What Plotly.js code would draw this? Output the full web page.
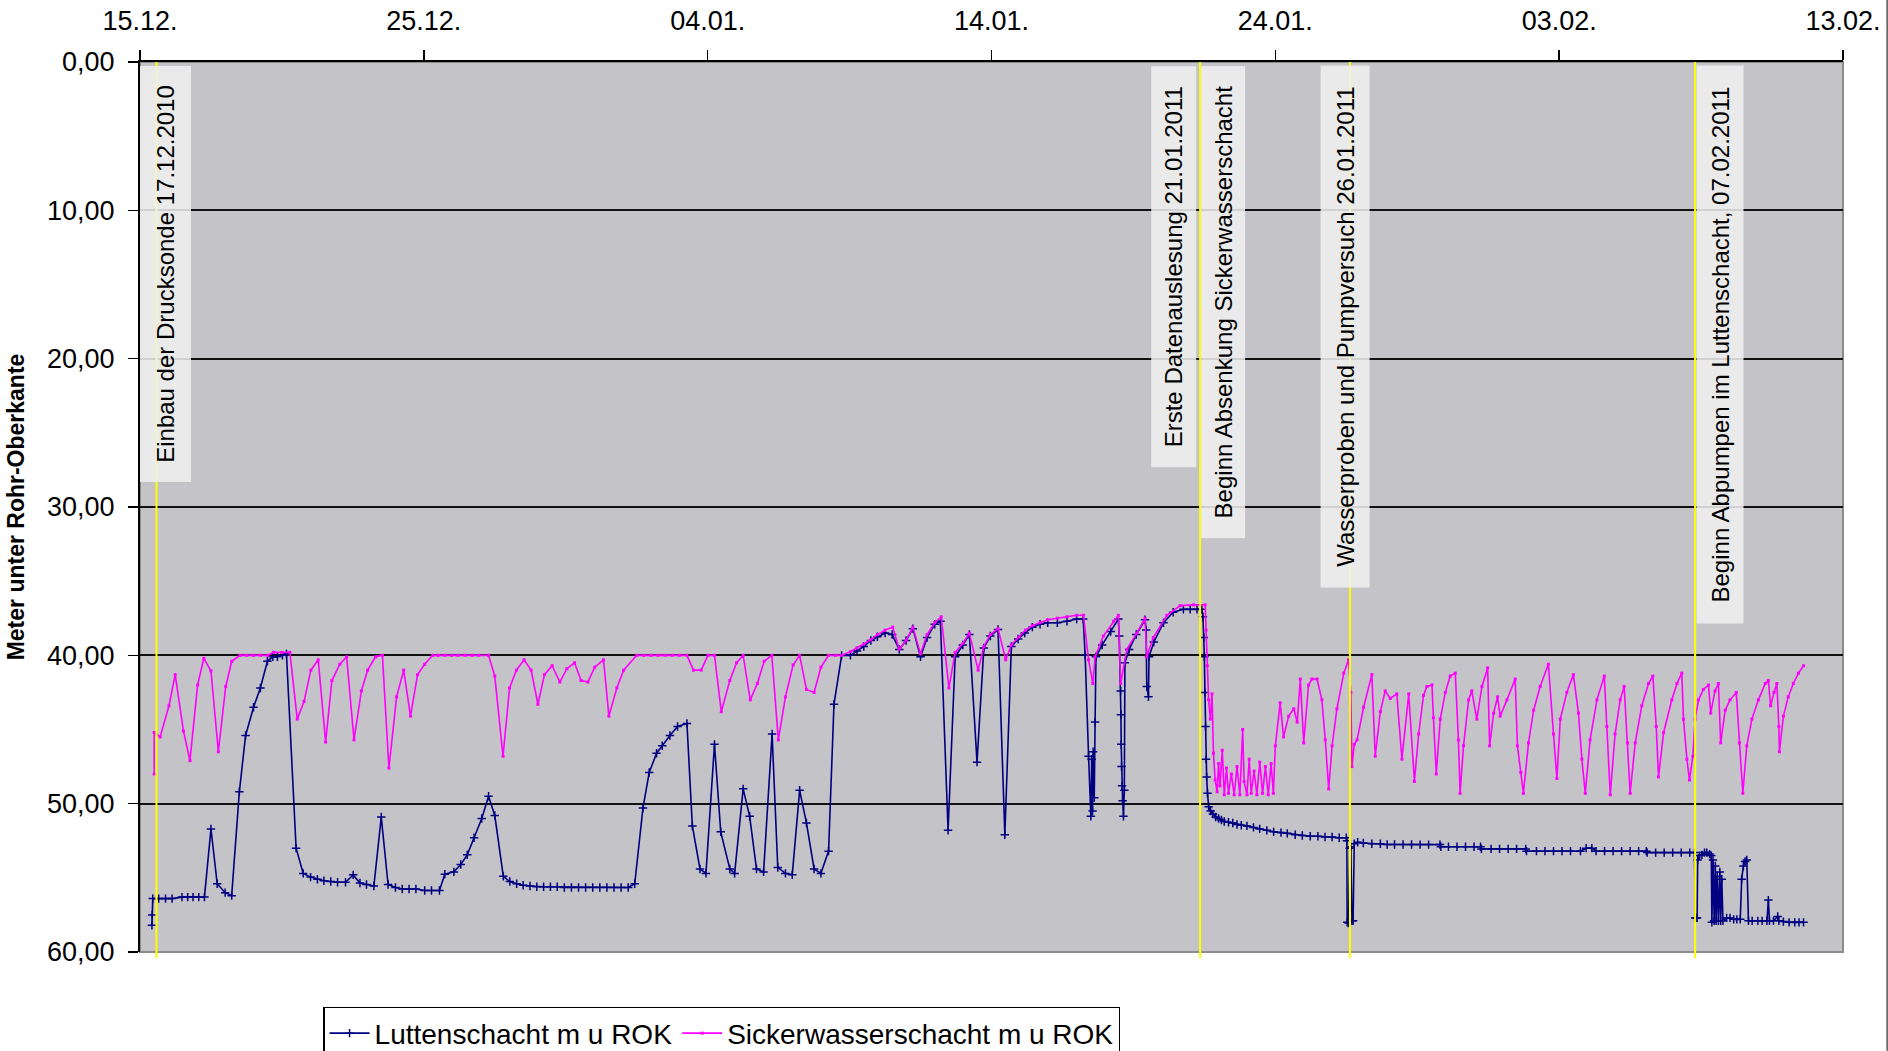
<!DOCTYPE html>
<html>
<head>
<meta charset="utf-8">
<script src="https://cdn.plot.ly/plotly-3.0.1.min.js"></script>
<style>
  html, body { margin: 0; padding: 0; background: #ffffff; }
  #chart { width: 1888px; height: 1051px; }
</style>
</head>
<body>
<div id="chart"></div>
<script>
// ---- DATA (days after 15.12.2010 00:00, depth in m below pipe top) ----
const seriesNames = ['Luttenschacht m u ROK', 'Sickerwasserschacht m u ROK'];

const lutDays = [0.42,0.43,0.45,0.66,0.9,1.13,1.48,1.68,1.87,2.07,2.27,2.5,2.72,3.0,3.23,3.5,3.72,4.0,4.24,4.49,4.68,4.84,5.02,5.16,5.5,5.75,6.01,6.25,6.48,6.72,6.96,7.24,7.51,7.75,7.98,8.24,8.5,8.74,9.0,9.24,9.48,9.72,10.03,10.27,10.55,10.74,11.06,11.3,11.53,11.77,12.04,12.28,12.5,12.8,13.03,13.27,13.5,13.74,13.98,14.22,14.46,14.7,14.95,15.2,15.45,15.7,15.95,16.2,16.45,16.7,16.95,17.2,17.43,17.72,17.94,18.2,18.4,18.67,18.94,19.27,19.46,19.73,19.94,20.24,20.46,20.78,20.95,21.25,21.48,21.72,21.97,22.27,22.47,22.74,22.98,23.24,23.48,23.75,23.99,24.26,24.45,24.72,25.03,25.26,25.5,25.75,25.98,26.25,26.5,26.75,26.99,27.23,27.5,27.73,28.0,28.2,28.47,28.72,28.99,29.22,29.49,29.73,29.96,30.23,30.47,30.7,30.94,31.17,31.44,31.71,31.98,32.32,32.66,33.0,33.23,
33.3,33.42,33.5,33.53,33.56,33.58,33.62,33.65,33.68,33.9,34.2,34.47,34.5,34.55,34.56,34.57,34.58,34.6,34.62,34.65,34.68,34.7,34.85,35.1,35.41,35.45,35.47,35.53,35.55,35.72,36.06,36.4,36.76,37.0,37.24,37.41,
37.45,37.48,37.5,37.52,37.54,37.56,37.58,37.61,37.65,37.72,37.8,37.9,38.0,38.1,38.2,38.35,38.5,38.65,38.8,39.0,39.23,39.45,39.7,39.94,40.2,40.42,40.7,40.95,41.23,41.5,41.75,42.0,42.25,42.5,42.52,42.53,42.58,42.62,42.66,42.7,42.74,42.78,42.9,43.1,43.4,43.7,43.94,44.2,44.5,44.8,45.1,45.4,45.8,45.83,46.1,46.4,46.7,47.0,47.23,47.26,47.6,47.9,48.2,48.5,48.82,48.85,49.2,49.5,49.8,50.1,50.4,50.75,50.95,51.15,51.3,51.6,51.9,52.2,52.5,52.8,53.07,53.1,53.4,53.7,54.0,54.3,54.6,54.77,
54.79,54.83,54.86,54.88,54.95,55.03,55.12,55.2,55.3,55.36,55.38,55.42,55.46,55.5,55.53,55.57,55.61,55.66,55.69,55.73,55.77,55.9,56.02,56.15,56.26,56.38,56.43,56.49,56.55,56.61,56.67,56.8,57.0,57.15,57.32,57.37,57.41,57.55,57.7,57.74,57.9,58.1,58.3,58.45,58.61];

const lutDepth = [58.2,57.5,56.4,56.4,56.4,56.4,56.3,56.3,56.3,56.3,56.3,51.7,55.4,56.0,56.2,49.2,45.4,43.5,42.2,40.4,40.1,40.1,40.0,39.9,53.0,54.7,54.95,55.1,55.2,55.25,55.3,55.3,54.8,55.35,55.45,55.55,50.9,55.45,55.65,55.75,55.75,55.75,55.85,55.85,55.85,54.75,54.6,54.1,53.45,52.3,51.0,49.5,50.8,54.9,55.25,55.4,55.5,55.55,55.6,55.6,55.6,55.6,55.65,55.65,55.65,55.65,55.65,55.65,55.65,55.65,55.65,55.65,55.4,50.3,47.9,46.6,46.1,45.4,44.8,44.6,51.5,54.4,54.7,46.0,51.9,54.4,54.7,49.0,50.85,54.4,54.6,45.3,54.3,54.7,54.8,49.1,51.3,54.4,54.7,53.2,43.3,40.0,40.0,39.7,39.4,39.0,38.75,38.5,38.6,39.6,39.0,38.2,40.1,38.8,37.9,37.7,51.8,40.1,39.3,38.6,47.2,39.5,38.7,38.25,52.1,39.4,38.9,38.5,38.1,37.9,37.8,37.8,37.7,37.55,37.55,
40.0,46.8,50.85,47.0,50.5,46.5,49.6,44.5,40.1,39.3,38.4,37.55,38.7,42.4,44.0,46.0,47.5,48.8,49.8,50.85,49.1,40.5,39.6,38.6,37.6,38.3,42.1,42.8,40.1,39.1,37.8,37.1,36.9,36.9,36.9,36.9,
37.4,38.8,40.1,42.5,44.8,47.0,48.2,49.3,50.2,50.5,50.7,50.9,51.0,51.1,51.2,51.25,51.3,51.4,51.45,51.5,51.6,51.7,51.8,51.9,51.95,52.0,52.1,52.15,52.2,52.2,52.25,52.25,52.3,52.3,52.5,58.0,58.05,53.0,52.9,57.9,57.9,52.7,52.6,52.65,52.7,52.7,52.75,52.75,52.75,52.75,52.76,52.76,52.76,52.9,52.9,52.9,52.9,52.9,52.9,53.05,53.05,53.05,53.05,53.05,53.05,53.2,53.2,53.2,53.2,53.2,53.2,53.2,53.0,53.0,53.2,53.2,53.2,53.2,53.2,53.2,53.2,53.3,53.3,53.3,53.3,53.3,53.3,53.3,
57.7,57.7,57.7,53.8,53.5,53.45,53.3,53.3,53.4,53.5,58.0,53.8,57.9,54.2,57.9,54.9,57.9,54.6,57.9,55.1,57.9,57.7,57.7,57.8,57.8,57.8,55.1,54.2,53.9,53.8,57.9,57.9,57.9,57.9,57.9,56.5,57.9,57.9,57.6,57.9,57.95,58.0,58.0,58.0,58.0];

const sickDays = [0.5,0.5,0.71,1.02,1.24,1.53,1.76,2.03,2.25,2.5,2.76,3.02,3.23,3.53,3.76,4.0,4.24,4.5,4.71,4.99,5.28,5.54,5.78,6.02,6.28,6.54,6.76,7.04,7.28,7.54,7.8,8.02,8.3,8.54,8.77,9.04,9.29,9.53,9.78,10.03,10.31,10.5,10.74,10.98,11.2,11.45,11.7,11.93,12.28,12.5,12.79,13.02,13.26,13.53,13.78,14.02,14.25,14.52,14.79,15.04,15.31,15.54,15.78,16.02,16.33,16.52,16.8,17.04,17.5,17.75,18.0,18.25,18.5,18.75,19.0,19.27,19.5,19.77,20.01,20.24,20.48,20.78,21.02,21.25,21.5,21.75,21.99,22.26,22.49,22.74,23.01,23.24,23.48,23.75,23.99,24.26,24.5,24.72,25.03,25.26,25.5,25.75,25.98,26.25,26.52,26.75,26.99,27.23,27.5,27.73,28.0,28.23,28.5,28.72,28.99,29.22,29.53,29.73,29.96,30.23,30.5,30.7,30.97,31.2,31.44,31.71,31.98,32.32,32.66,33.0,33.24,33.42,33.57,33.65,33.94,34.3,34.47,34.55,34.77,35.12,35.41,35.47,35.7,36.18,36.65,37.12,37.53,
37.56,37.6,37.65,37.71,37.77,37.82,37.88,37.95,38.0,38.05,38.13,38.2,38.28,38.35,38.45,38.55,38.65,38.75,38.85,38.9,39.0,39.08,39.15,39.25,39.35,39.45,39.55,39.65,39.75,39.85,39.93,40.0,40.17,40.29,40.47,40.65,40.77,40.88,41.0,41.17,41.29,41.47,41.64,41.76,41.88,42.0,42.17,42.41,42.58,42.66,42.7,42.78,42.88,43.11,43.4,43.52,43.7,43.87,44.05,44.28,44.46,44.7,44.9,
45.05,45.22,45.34,45.52,45.57,45.67,45.81,45.99,46.16,46.34,46.45,46.51,46.63,46.81,46.92,47.1,47.28,47.48,47.55,47.69,47.83,47.92,48.16,48.45,48.53,48.65,48.74,48.92,49.1,49.33,49.62,49.8,49.92,50.04,50.27,50.5,50.68,50.8,50.92,51.09,51.33,51.59,51.68,51.8,51.97,52.15,52.29,52.41,52.5,52.68,52.91,53.15,53.3,53.42,53.5,53.68,53.97,54.15,54.32,54.38,54.5,54.59,54.71,54.79,54.91,55.08,55.26,55.34,55.49,55.61,55.69,55.85,56.02,56.24,56.35,56.47,56.61,56.79,57.02,57.26,57.37,57.45,57.57,57.67,57.74,57.76,57.9,58.07,58.25,58.43,58.61];

const sickDepth = [48.0,45.2,45.5,43.4,41.3,45.1,47.1,42.0,40.2,41.05,46.5,42.1,40.4,40.0,40.0,40.0,40.0,40.0,39.8,39.8,39.8,44.3,43.1,41.0,40.3,45.85,41.7,40.6,40.1,45.7,42.4,41.0,40.1,40.0,47.6,42.8,41.0,44.1,41.3,40.6,40.0,40.0,40.0,40.0,40.0,40.0,40.0,40.0,40.0,41.4,46.8,42.2,41.0,40.3,41.0,43.3,41.3,40.7,41.8,40.9,40.5,41.7,41.8,40.8,40.3,44.1,42.2,41.0,40.0,40.0,40.0,40.0,40.0,40.0,40.0,40.0,41.0,41.0,40.0,40.0,43.8,41.7,40.5,40.0,43.0,41.9,40.4,40.0,45.7,42.8,40.65,40.0,42.3,42.5,40.8,40.0,40.0,40.0,39.75,39.5,39.25,38.95,38.6,38.3,38.1,39.6,39.0,38.1,39.9,38.6,37.8,37.4,42.2,39.8,39.2,38.5,41.0,39.4,38.6,38.2,40.3,39.3,38.75,38.3,38.0,37.8,37.6,37.5,37.4,37.3,37.3,40.3,41.9,40.1,38.7,37.7,37.3,41.9,39.6,38.5,37.5,40.1,38.8,37.3,36.65,36.6,36.6,
38.3,40.7,43.0,44.3,42.6,46.6,48.4,49.2,47.3,48.8,46.4,49.4,47.6,49.3,48.0,49.4,47.5,49.4,45.0,48.5,49.4,47.0,49.3,47.8,49.4,47.2,49.3,47.5,49.4,47.3,49.3,46.1,43.2,45.5,44.1,43.6,44.5,41.6,45.9,42.0,41.6,41.6,43.0,45.7,49.0,46.1,43.6,41.2,40.3,42.5,47.5,46.0,45.7,43.5,41.3,46.8,43.8,42.4,42.9,42.6,47.0,42.6,48.5,
45.3,42.7,42.1,42.0,44.2,48.0,44.3,42.5,41.4,41.2,45.7,49.3,46.1,43.0,42.4,44.3,42.1,40.85,46.1,43.9,42.8,44.1,43.0,41.6,46.1,47.9,49.3,45.9,43.7,42.1,40.6,45.3,48.3,44.3,42.5,41.3,43.9,47.0,49.3,45.7,43.0,41.4,44.8,49.4,45.3,43.0,42.1,45.9,49.3,45.9,43.4,41.9,41.4,44.8,48.2,45.2,43.0,41.9,41.2,44.3,47.0,48.4,46.8,44.3,43.0,42.3,42.0,43.9,42.4,41.9,45.9,43.7,43.0,42.5,45.9,49.3,46.1,44.3,43.0,41.9,41.7,43.4,42.5,41.9,44.8,46.5,44.1,42.8,41.9,41.2,40.7];

// x axis (days after 15.12.2010) and y axis ticks
const xRangeDays = [0, 60];
const xTickStepDays = 10;
const yTicks = [0, 10, 20, 30, 40, 50, 60];

// event markers (yellow lines) and their label boxes
const eventDays = [0.58, 37.35, 42.63, 54.79];
const labelTexts = ['Einbau der Drucksonde 17.12.2010', 'Erste Datenauslesung 21.01.2011', 'Beginn Absenkung Sickerwasserschacht', 'Wasserproben und Pumpversuch 26.01.2011', 'Beginn Abpumpen im Luttenschacht, 07.02.2011'];
const labelDays = [0.88, 36.42, 38.16, 42.44, 55.65];

// ---- helpers ----
const BASE = Date.UTC(2010, 11, 15);
function toDate(d) {
  const t = new Date(BASE + Math.round(d * 86400000));
  return t.toISOString().slice(0, 19).replace('T', ' ');
}

const FONT = 'Liberation Sans, Arial, Helvetica, sans-serif';

const traces = [
  {
    type: 'scatter', mode: 'lines+markers', name: seriesNames[0],
    x: lutDays.map(toDate), y: lutDepth,
    line: { color: '#000080', width: 1.6 },
    marker: { symbol: 'cross-thin', size: 6, color: '#000080', line: { color: '#000080', width: 1.5 } }
  },
  {
    type: 'scatter', mode: 'lines+markers', name: seriesNames[1],
    x: sickDays.map(toDate), y: sickDepth,
    line: { color: '#FF00FF', width: 1.6 },
    marker: { symbol: 'square', size: 3, color: '#FF00FF' }
  }
];

// label box sizes (pixels) along text / across text
const boxLen = [416, 401, 472, 522, 558];
const boxThick = [51, 45, 44, 49, 47];

const annotations = labelTexts.map((t, i) => ({
  text: t, x: toDate(labelDays[i]), xref: 'x', y: 1, yref: 'paper',
  xanchor: 'center', yanchor: 'top', yshift: -4,
  textangle: -90, showarrow: false,
  font: { family: FONT, size: 24, color: '#000' },
  bgcolor: 'rgba(240,240,240,0.86)', borderpad: 0, borderwidth: 0,
  width: boxLen[i], height: boxThick[i], align: 'center', valign: 'middle'
}));

const shapes = [
  { type: 'rect', xref: 'paper', yref: 'paper', x0: 0, x1: 1, y0: 0, y1: 1,
    line: { color: '#8c8c8c', width: 2 }, layer: 'between' }
].concat(eventDays.map(d => ({
  type: 'line', xref: 'x', yref: 'paper', x0: toDate(d), x1: toDate(d), y0: -0.007, y1: 1,
  line: { color: '#FFFF00', width: 2 }, layer: 'above'
}))).concat([
  { type: 'line', xref: 'paper', yref: 'paper', x0: 1.0259, x1: 1.0259, y0: -0.111, y1: 1.0697,
    line: { color: '#000', width: 1 } }
]);

const layout = {
  width: 1888, height: 1051,
  margin: { l: 140, r: 45, t: 62, b: 99, pad: 0, autoexpand: false },
  paper_bgcolor: '#ffffff', plot_bgcolor: '#C4C3C7',
  separators: ',.',
  font: { family: FONT, color: '#000' },
  showlegend: true,
  xaxis: {
    type: 'date', range: [toDate(xRangeDays[0]), toDate(xRangeDays[1])],
    side: 'top', tickmode: 'linear', tick0: toDate(0), dtick: xTickStepDays * 86400000,
    tickformat: '%d.%m.', ticks: 'outside', ticklen: 10, tickwidth: 1.5, tickcolor: '#000',
    showline: true, linecolor: '#000', linewidth: 2, showgrid: false, zeroline: false,
    tickfont: { family: FONT, size: 27, color: '#000' }, ticklabelstandoff: 9
  },
  yaxis: {
    range: [60, 0], tickmode: 'array', tickvals: yTicks, tickformat: '.2f',
    ticks: 'outside', ticklen: 10, tickwidth: 1.5, tickcolor: '#000',
    showline: true, linecolor: '#000', linewidth: 2,
    showgrid: true, gridcolor: '#111', gridwidth: 1.8, zeroline: false,
    tickfont: { family: FONT, size: 27, color: '#000' }, ticklabelstandoff: 8,
    title: { text: '<b>Meter unter Rohr-Oberkante</b>', font: { family: FONT, size: 23, color: '#000' }, standoff: 16 }
  },
  legend: {
    orientation: 'h', x: 0.1075, xanchor: 'left', xref: 'paper',
    y: 0.0419, yanchor: 'top', yref: 'container',
    bordercolor: '#000', borderwidth: 1.5, bgcolor: '#ffffff',
    font: { family: FONT, size: 28, color: '#000' }, itemwidth: 40
  },
  annotations: annotations,
  shapes: shapes
};

Plotly.newPlot('chart', traces, layout, { displayModeBar: false, staticPlot: true });
</script>
</body>
</html>
